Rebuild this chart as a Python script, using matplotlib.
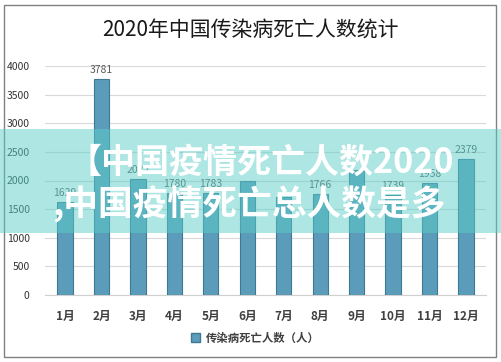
import matplotlib
matplotlib.use("Agg")
import matplotlib.pyplot as plt
from matplotlib.patches import Rectangle, Patch

plt.rcParams['font.family'] = ['Noto Sans CJK SC', 'DejaVu Sans']

months = ["1月", "2月", "3月", "4月", "5月", "6月", "7月", "8月", "9月", "10月", "11月", "12月"]
deaths = [1629, 3781, 2022, 1780, 1783, 1990, 1720, 1766, 2180, 1739, 1958, 2379]
shown_labels = [True, True, True, True, True, False, False, True, False, True, True, True]
yticks = [0, 500, 1000, 1500, 2000, 2500, 3000, 3500, 4000]
title = "2020年中国传染病死亡人数统计"
series_name = "传染病死亡人数（人）"
overlay_line1 = "【中国疫情死亡人数2020"
overlay_line2 = ",中国疫情死亡总人数是多"

W, H = 501, 362
fig = plt.figure(figsize=(W / 100, H / 100), dpi=100)
fig.patch.set_facecolor('white')

# outer frame
fig.add_artist(Rectangle((4 / W, 5 / H), 492 / W, 352 / H, transform=fig.transFigure,
                         fill=False, edgecolor='#808080', linewidth=1.0))

ax = fig.add_axes([45 / W, (H - 295) / H, (486 - 45) / W, (295 - 66) / H])
x = list(range(len(months)))
ax.bar(x, deaths, width=0.42, color='#5b9cba', edgecolor='#3e7892', linewidth=0.8, zorder=3)
ax.set_ylim(0, 4000)
ax.set_xlim(-0.55, len(months) - 0.45)
ax.set_yticks(yticks)
ax.set_yticklabels([str(v) for v in yticks], fontsize=7.5, color='#333333')
ax.set_xticks(x)
ax.set_xticklabels(months, fontsize=8.5, fontweight='bold', color='#404040')
ax.tick_params(axis='both', length=0)
ax.tick_params(axis='x', pad=11)
ax.tick_params(axis='y', pad=11)
ax.grid(axis='y', color='#d9d9d9', linewidth=0.8, zorder=0)
for s in ['top', 'right', 'left']:
    ax.spines[s].set_visible(False)
ax.spines['bottom'].set_color('#d0d0d0')

for xi, v, show in zip(x, deaths, shown_labels):
    if show:
        ax.text(xi, v + 70, str(v), ha='center', va='bottom', fontsize=7.5, color='#595959', zorder=4)

fig.text(0.5, 1 - 30 / H, title, ha='center', va='center', fontsize=15, color='#1a1a1a')

leg_handle = Patch(facecolor='#5b9cba', edgecolor='#3e7892')
fig.legend([leg_handle], [series_name], loc='center', bbox_to_anchor=(0.51, 1 - 338 / H),
           frameon=False, handlelength=0.8, handleheight=0.8, handletextpad=0.5,
           prop={'weight': 'bold', 'size': 8.2}, labelcolor='#404040')

# translucent overlay band
fig.add_artist(Rectangle((0, (H - 233) / H), 1, 104 / H, transform=fig.transFigure,
                         facecolor='#5ccfc8', alpha=0.5, edgecolor='none', zorder=10))
fig.text(68 / W, 1 - 162 / H, overlay_line1, ha='left', va='center', fontsize=24.5,
         fontweight='bold', color='white', zorder=11)
fig.text(52 / W, 1 - 204 / H, overlay_line2, ha='left', va='center', fontsize=25,
         fontweight='bold', color='white', zorder=11)

fig.savefig('out.png', dpi=100)
